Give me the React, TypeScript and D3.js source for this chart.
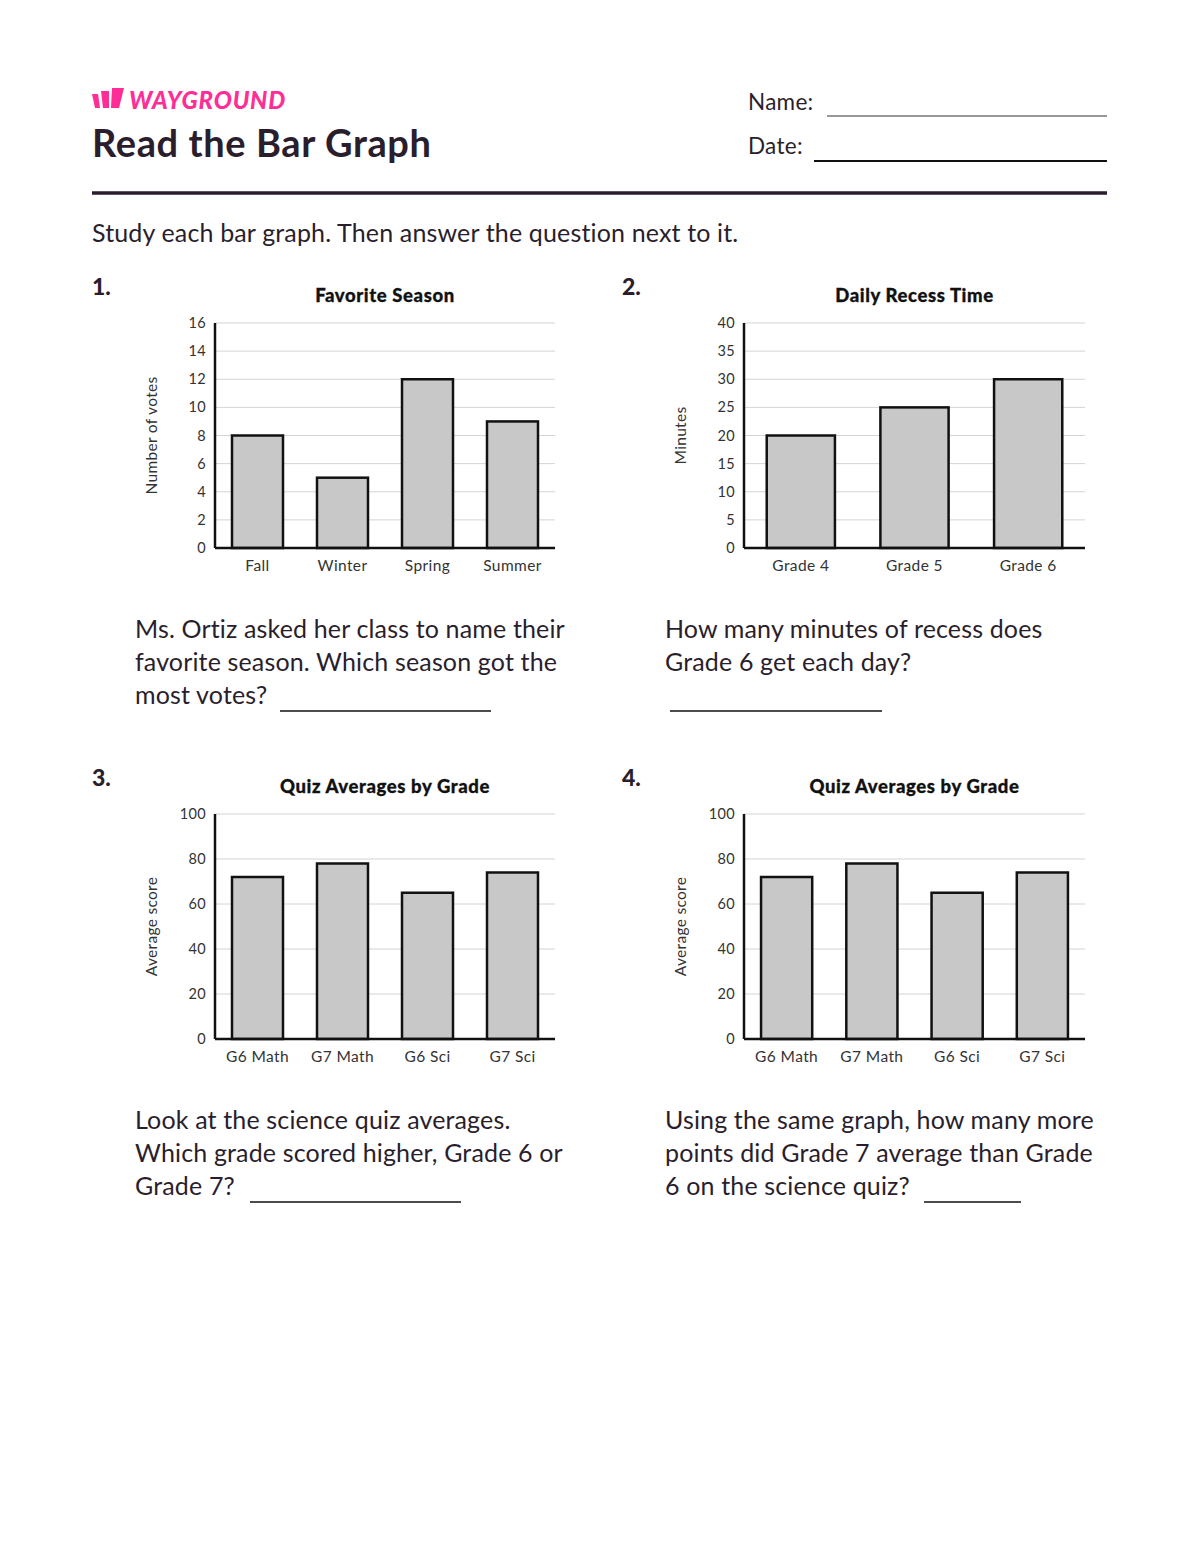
import React from "react";
import * as d3 from "d3";

const seasonCats = ["Fall", "Winter", "Spring", "Summer"];
const seasonVotes = [8, 5, 12, 9];
const recessCats = ["Grade 4", "Grade 5", "Grade 6"];
const recessMinutes = [20, 25, 30];
const quizCats = ["G6 Math", "G7 Math", "G6 Sci", "G7 Sci"];
const quizScores = [72, 78, 65, 74];

const FONT = "Lato, 'Open Sans', sans-serif";
const INK = "#2a1e2c";

type ChartProps = {
  title: string;
  ylabel: string;
  cats: string[];
  vals: number[];
  yMax: number;
  step: number;
  x0: number;
  x1: number;
  yTop: number;
  yBot: number;
};

function BarChart({ title, ylabel, cats, vals, yMax, step, x0, x1, yTop, yBot }: ChartProps) {
  const x = d3.scaleBand<string>().domain(cats).range([x0, x1]).paddingInner(0.4).paddingOuter(0.2);
  const y = d3.scaleLinear().domain([0, yMax]).range([yBot, yTop]);
  const ticks = d3.range(0, yMax + step / 2, step);
  return (
    <g>
      <text x={(x0 + x1) / 2} y={yTop - 21} textAnchor="middle" fontFamily={FONT} fontWeight={900} fontSize={18.5} letterSpacing={0.6} fill="#111" stroke="#111" strokeWidth={0.3}>
        {title}
      </text>
      {ticks.map((t) => (
        <g key={t}>
          {t > 0 && <line x1={x0} x2={x1} y1={y(t)} y2={y(t)} stroke="#d4d4d4" strokeWidth={1} />}
          <text x={x0 - 9} y={y(t)} dy="0.35em" textAnchor="end" fontFamily={FONT} fontSize={14.5} letterSpacing={0.3} fill="#333">
            {t}
          </text>
        </g>
      ))}
      {cats.map((c, i) => (
        <rect
          key={c}
          x={x(c)}
          y={y(vals[i])}
          width={x.bandwidth()}
          height={yBot - y(vals[i])}
          fill="#c8c8c8"
          stroke="#111"
          strokeWidth={2.5}
        />
      ))}
      <line x1={x0} x2={x0} y1={yTop} y2={yBot} stroke="#111" strokeWidth={2.5} />
      <line x1={x0} x2={x1} y1={yBot} y2={yBot} stroke="#111" strokeWidth={2.5} />
      {cats.map((c) => (
        <text key={c} x={(x(c) as number) + x.bandwidth() / 2} y={yBot + 23} textAnchor="middle" fontFamily={FONT} fontSize={15.5} letterSpacing={0.4} fill="#333">
          {c}
        </text>
      ))}
      <text
        transform={`translate(${x0 - 58},${(yTop + yBot) / 2}) rotate(-90)`}
        textAnchor="middle"
        fontFamily={FONT}
        fontSize={15.5}
        letterSpacing={0.3}
        fill="#333"
      >
        {ylabel}
      </text>
    </g>
  );
}

function Para({ x, y, lines, lh = 33 }: { x: number; y: number; lines: string[]; lh?: number }) {
  return (
    <g>
      {lines.map((l, i) => (
        <text key={i} x={x} y={y + i * lh} fontFamily={FONT} fontSize={25} letterSpacing={0.15} fill={INK}>
          {l}
        </text>
      ))}
    </g>
  );
}

export default function App() {
  return (
    <svg width={1200} height={1552} style={{ position: "absolute", left: 0, top: 0, background: "#fff" }}>
      <rect width={1200} height={1552} fill="#fff" />
      {/* logo */}
      <g fill="#ff2e97">
        <polygon points="92,94 98,94 100,108 95,108" />
        <polygon points="101,91 109,91 109,108 103,108" />
        <polygon points="112,88 124,88 119,108 111,108" />
        <text x={129} y={109} fontFamily={FONT} fontWeight={900} fontStyle="italic" fontSize={24} letterSpacing={0.8}>
          WAYGROUND
        </text>
      </g>
      <text x={92} y={157} fontFamily={FONT} fontWeight={700} fontSize={38} letterSpacing={0.6} fill={INK}>
        Read the Bar Graph
      </text>
      <text x={748} y={110} fontFamily={FONT} fontSize={22.5} letterSpacing={0.3} fill={INK}>Name:</text>
      <line x1={827} x2={1107} y1={116} y2={116} stroke="#333" strokeWidth={1.2} />
      <text x={748} y={154} fontFamily={FONT} fontSize={22.5} letterSpacing={0.3} fill={INK}>Date:</text>
      <line x1={814} x2={1107} y1={161} y2={161} stroke="#111" strokeWidth={2} />
      <line x1={92} x2={1107} y1={193} y2={193} stroke={INK} strokeWidth={3.5} />
      <text x={92} y={242} fontFamily={FONT} fontSize={25} letterSpacing={0.15} fill={INK}>
        Study each bar graph. Then answer the question next to it.
      </text>

      <text x={92} y={295} fontFamily={FONT} fontWeight={900} fontSize={23} fill={INK}>1.</text>
      <text x={622} y={295} fontFamily={FONT} fontWeight={900} fontSize={23} fill={INK}>2.</text>
      <text x={92} y={786} fontFamily={FONT} fontWeight={900} fontSize={23} fill={INK}>3.</text>
      <text x={622} y={786} fontFamily={FONT} fontWeight={900} fontSize={23} fill={INK}>4.</text>

      <BarChart title="Favorite Season" ylabel="Number of votes" cats={seasonCats} vals={seasonVotes} yMax={16} step={2} x0={215} x1={555} yTop={323} yBot={548} />
      <BarChart title="Daily Recess Time" ylabel="Minutes" cats={recessCats} vals={recessMinutes} yMax={40} step={5} x0={744} x1={1085} yTop={323} yBot={548} />
      <BarChart title="Quiz Averages by Grade" ylabel="Average score" cats={quizCats} vals={quizScores} yMax={100} step={20} x0={215} x1={555} yTop={814} yBot={1039} />
      <BarChart title="Quiz Averages by Grade" ylabel="Average score" cats={quizCats} vals={quizScores} yMax={100} step={20} x0={744} x1={1085} yTop={814} yBot={1039} />

      <Para x={135} y={638} lines={["Ms. Ortiz asked her class to name their", "favorite season. Which season got the", "most votes?"]} />
      <line x1={280} x2={491} y1={711} y2={711} stroke="#111" strokeWidth={1.5} />
      <Para x={665} y={638} lines={["How many minutes of recess does", "Grade 6 get each day?"]} />
      <line x1={670} x2={882} y1={711} y2={711} stroke="#111" strokeWidth={1.5} />

      <Para x={135} y={1129} lines={["Look at the science quiz averages.", "Which grade scored higher, Grade 6 or", "Grade 7?"]} />
      <line x1={250} x2={461} y1={1202} y2={1202} stroke="#111" strokeWidth={1.5} />
      <Para x={665} y={1129} lines={["Using the same graph, how many more", "points did Grade 7 average than Grade", "6 on the science quiz?"]} />
      <line x1={924} x2={1021} y1={1202} y2={1202} stroke="#111" strokeWidth={1.5} />
    </svg>
  );
}
